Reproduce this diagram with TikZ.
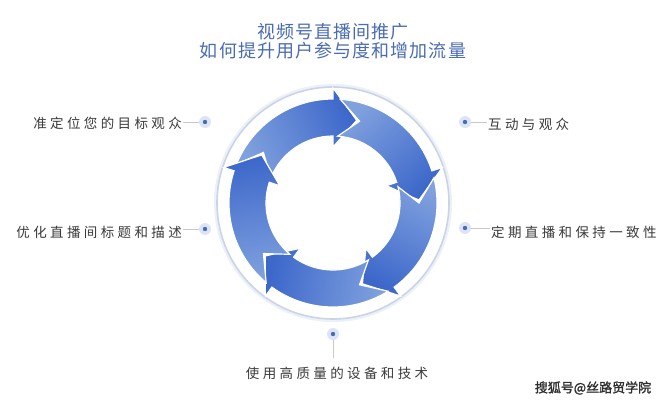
\documentclass[tikz,border=0pt]{standalone}
\usepackage{fontspec}
\newfontfamily\cjk{Noto Sans CJK SC}
\newfontfamily\cjklbl[LetterSpace=25]{Noto Sans CJK SC}
\newfontfamily\cjktitle[LetterSpace=6]{Noto Sans CJK SC}
\newfontfamily\cjkwm[FakeBold=1.5]{Noto Sans CJK SC}
\definecolor{arrdark}{HTML}{3D68CA}
\definecolor{arrlight}{HTML}{80A1DE}
\definecolor{ringc}{HTML}{CBD4E7}
\definecolor{ringglow}{HTML}{ECF0F8}
\definecolor{haloc}{HTML}{DDE5F5}
\definecolor{dotc}{HTML}{4A6BB8}
\definecolor{titlec}{HTML}{4A6CB4}
\definecolor{textc}{HTML}{3A3A3A}
\definecolor{linec}{HTML}{C9C9C9}
\begin{document}
\begin{tikzpicture}[x=1pt,y=1pt,
  dotnode/.style={circle, fill=haloc, minimum size=12pt, inner sep=0pt},
  lbl/.style={text=textc, font=\cjklbl\fontsize{13.5}{15}\selectfont, inner sep=1pt},
  conn/.style={draw=linec, line width=0.6pt},
  arrowpath/.style={draw=white, line width=1.2pt, line join=miter}]
\useasboundingbox[fill=white] (0,0) rectangle (669,400);
% ring
\coordinate (C) at (333,197);
\draw[ringglow, line width=4pt] (C) circle[radius=117pt];
\draw[ringc, line width=1.6pt, fill=white] (C) circle[radius=116pt];
% arrows
\begin{scope}[shift={(C)}]
\foreach \h in {90,18,-54,-126,-198} {
  \pgfmathsetmacro\t{\h+68}
  \pgfmathsetmacro\n{\h+54}
  \pgfmathsetmacro\tp{\h-16}
  \pgfmathsetmacro\sa{\h+26-180}
  \path[arrowpath, top color=arrdark, bottom color=arrlight, shading angle=\sa]
    (\t:104pt) arc[start angle=\t, end angle=\h, radius=104pt]
    -- (\h:115pt) -- (\tp:86pt) -- (\h:56pt) -- (\h:67pt)
    arc[start angle=\h, end angle=\t, radius=67pt]
    -- (\n:86pt) -- cycle;
}
\end{scope}
% title
\node[text=titlec, font=\cjktitle\fontsize{18}{19}\selectfont, align=center] (title) at (333,358.5)
  {视频号直播间推广\\如何提升用户参与度和增加流量};
% dots
\node[dotnode] (d1) at (205,278) {};
\node[dotnode] (d2) at (205,171) {};
\node[dotnode] (d3) at (465,278) {};
\node[dotnode] (d4) at (465,172) {};
\node[dotnode] (d5) at (333,66) {};
\foreach \d in {d1,d2,d3,d4,d5} \fill[dotc] (\d.center) circle[radius=2.2pt];
% labels
\node[lbl, anchor=east] (l1) at (183,277) {准定位您的目标观众};
\node[lbl, anchor=east] (l2) at (183,168) {优化直播间标题和描述};
\node[lbl, anchor=west] (l3) at (487,276) {互动与观众};
\node[lbl, anchor=west] (l4) at (490,168) {定期直播和保持一致性};
\node[lbl, inner ysep=9pt] (l5) at (337,27) {使用高质量的设备和技术};
% connectors
\draw[conn] (d1.west) -- (d1.west -| l1.east);
\draw[conn] (d2.west) -- (d2.west -| l2.east);
\draw[conn] (d3.east) -- (d3.east -| l3.west);
\draw[conn] (d4.east) -- (d4.east -| l4.west);
\draw[conn] (d5.south) -- (d5.south |- l5.north);
% watermark
\node[text=textc!80!black, font=\cjkwm\fontsize{13}{15}\selectfont, inner sep=0pt] (wm) at (593,12) {搜狐号@丝路贸学院};
\end{tikzpicture}
\end{document}
